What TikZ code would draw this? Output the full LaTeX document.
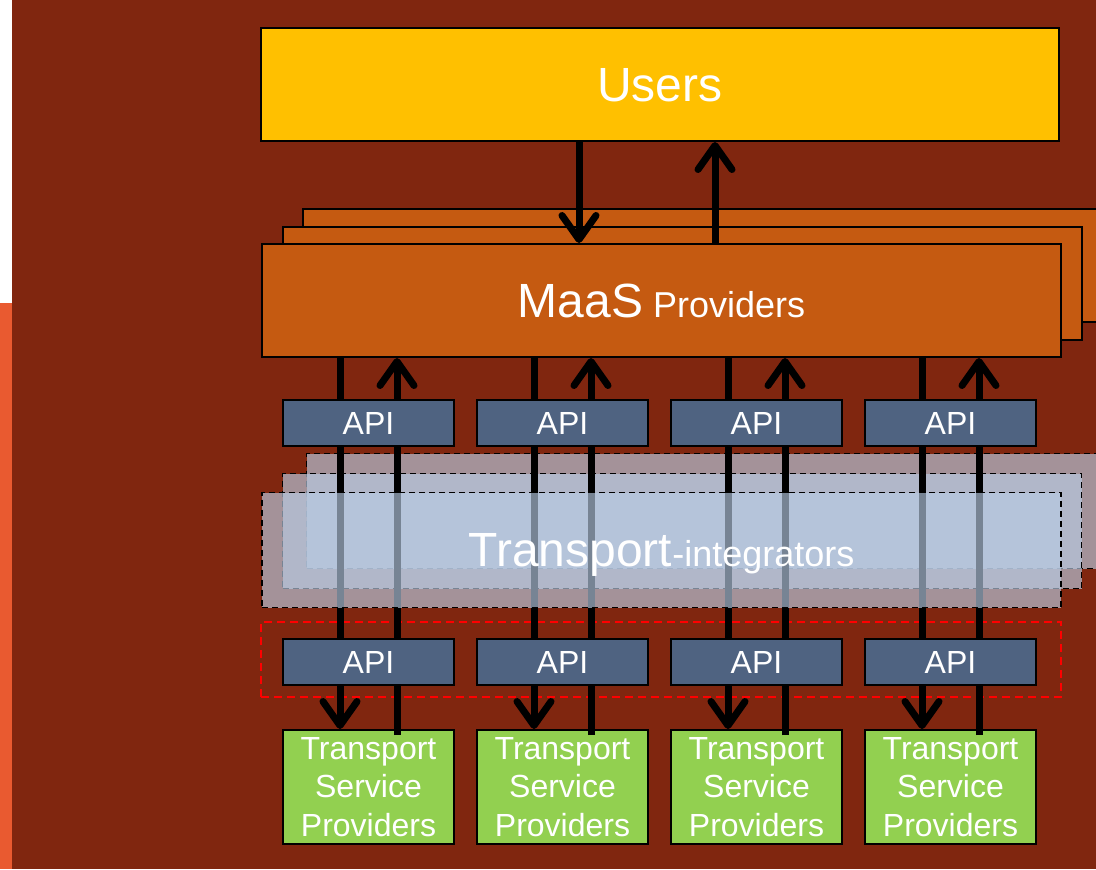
\documentclass[tikz,border=0pt]{standalone}
\usepackage{fontspec}
\setmainfont{Liberation Sans}
\usetikzlibrary{arrows.meta}

\definecolor{bgbrown}{HTML}{80260F}
\definecolor{sideorange}{HTML}{E95A30}
\definecolor{usersyellow}{HTML}{FFC000}
\definecolor{maasorange}{HTML}{C55A11}
\definecolor{apislate}{HTML}{4F6381}
\definecolor{integblue}{HTML}{B8CCE4}
\definecolor{tspgreen}{HTML}{92D050}

\begin{document}
\begin{tikzpicture}[x=0.5pt, y=-0.5pt,
  box/.style={draw=black, line width=1pt, text=white, inner sep=0pt, align=center},
  bigbox/.style={box, minimum width=399.5pt, minimum height=56.5pt},
  integbox/.style={draw=black, dashed, dash pattern=on 3pt off 2pt, line width=0.7pt, fill=integblue, fill opacity=0.65, text opacity=1, text=white, inner sep=0pt, minimum width=399.5pt, minimum height=57.5pt},
  apibox/.style={box, fill=apislate, minimum width=85.5pt, minimum height=23pt, font=\fontsize{16}{19}\selectfont},
  tspbox/.style={box, fill=tspgreen, minimum width=85.5pt, minimum height=57pt, font=\fontsize{16}{19.2}\selectfont},
  flow/.style={line width=3.5pt, -{Straight Barb[length=12pt, width=17pt, round]}}
]

% background
\useasboundingbox (0,0) rectangle (1096,869);
\fill[bgbrown] (0,0) rectangle (1096,869);
\fill[white] (0,0) rectangle (12,303);
\fill[sideorange] (0,303) rectangle (12,869);

% MaaS providers, stacked
\node[bigbox, fill=maasorange] (maas3) at (702,265) {};
\node[bigbox, fill=maasorange] (maas2) at (682,283) {};
\node[bigbox, fill=maasorange, text depth=0pt] (maas) at (661.5,300.5) {{\fontsize{24}{28}\selectfont MaaS}\fontsize{18}{22}\selectfont{} Providers};

% users
\node[bigbox, fill=usersyellow, minimum width=399pt, text depth=0pt, font=\fontsize{24}{28}\selectfont] (users) at (660,84.5) {Users};

\coordinate (udn) at ([xshift=-41.25pt]maas.north);
\coordinate (uup) at ([xshift=26.75pt]maas.north);
\draw[flow] (udn |- users.south) -- (udn);
\draw[flow] (uup) -- (uup |- users.south);

% transport-integrators, back layers
\node[integbox] (integ3) at (706,511) {};
\node[integbox] (integ2) at (682,531) {};

% API group towards the service providers
\node[draw=red, dashed, dash pattern=on 4pt off 2.5pt, line width=0.7pt, minimum width=400pt, minimum height=37.5pt] (apigroup) at (661,659.5) {};

\foreach \i/\x in {1/368.5, 2/562.5, 3/756.5, 4/950.5}{
  \node[tspbox] (tsp\i) at (\x,787) {Transport\\Service\\Providers};
}

\foreach \i in {1,...,4}{
  \coordinate (dn\i) at ([xshift=-14.25pt]tsp\i.north);
  \coordinate (up\i) at ([xshift=14.25pt, yshift=-3pt]tsp\i.north);
  \draw[flow] (dn\i |- maas.south) -- (dn\i);
  \draw[flow] (up\i) -- (up\i |- maas.south);
}

% front layer over the arrows
\node[integbox, text depth=0pt] (integ) at (661.5,550) {{\fontsize{24}{28}\selectfont Transport}\fontsize{18}{22}\selectfont -integrators};

\foreach \i/\x in {1/368.5, 2/562.5, 3/756.5, 4/950.5}{
  \node[apibox] (apiT\i) at (\x,423) {API};
  \node[apibox] (apiB\i) at (\x,662) {API};
}

\end{tikzpicture}
\end{document}
